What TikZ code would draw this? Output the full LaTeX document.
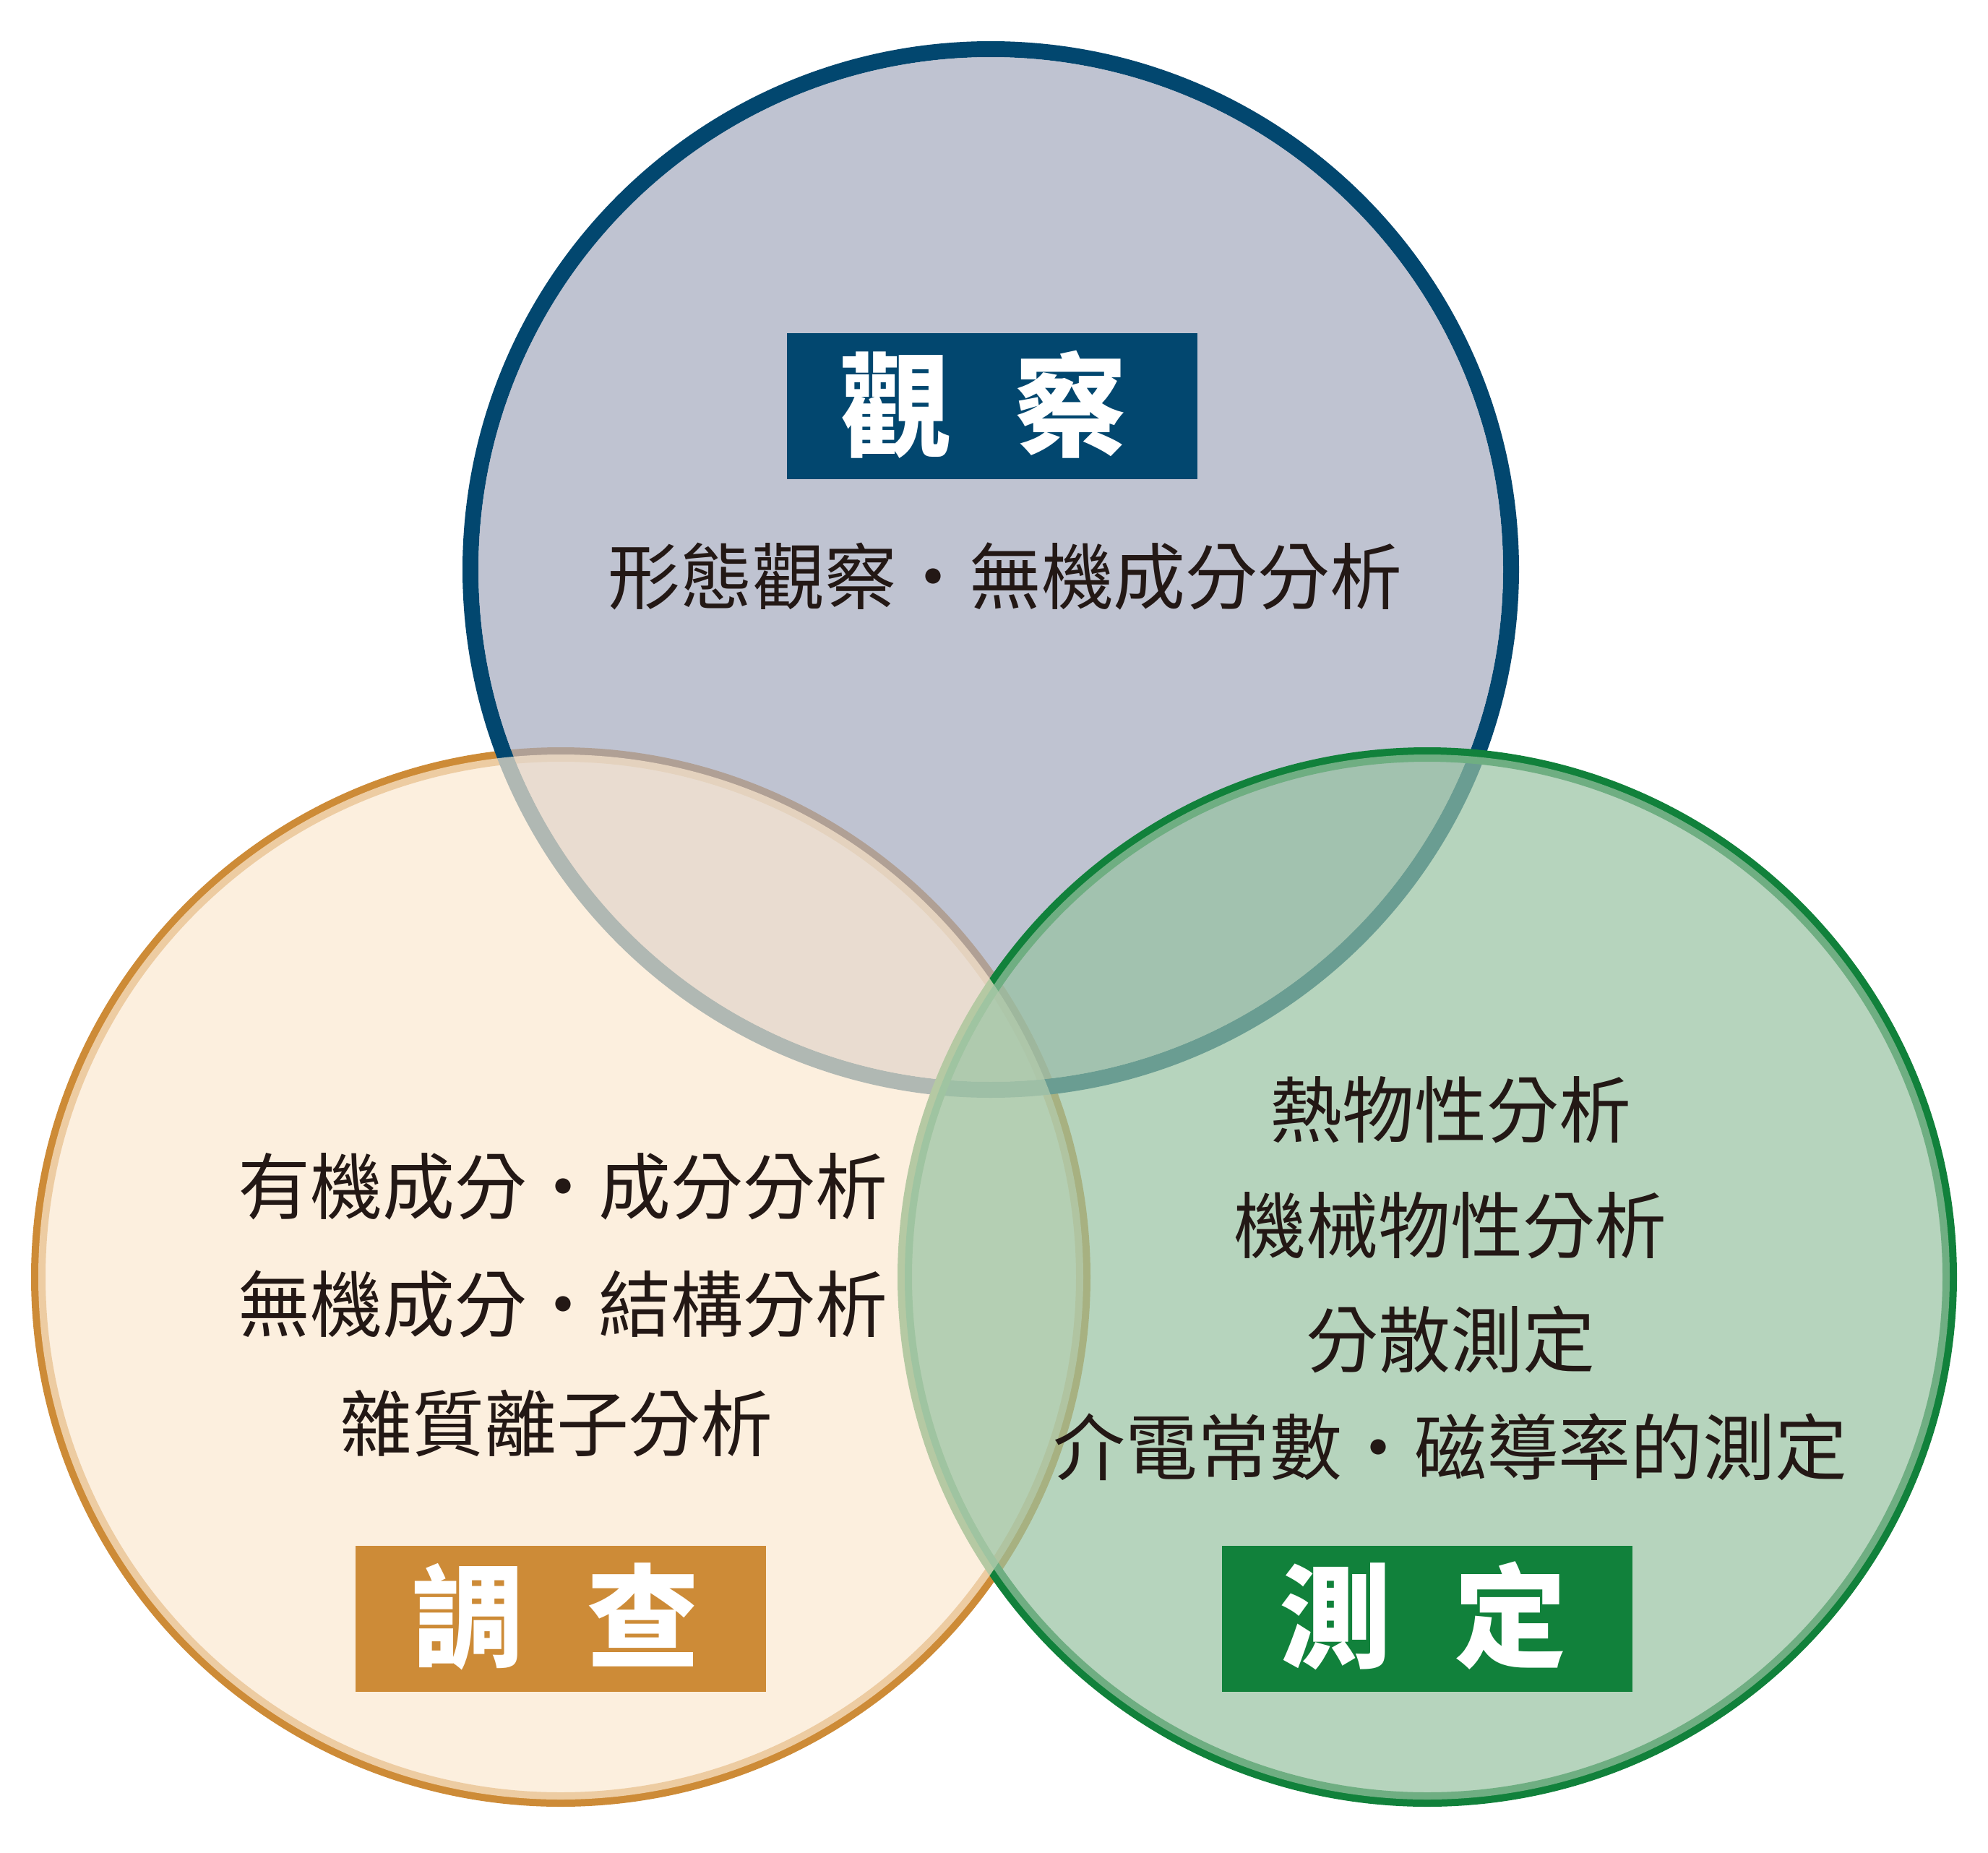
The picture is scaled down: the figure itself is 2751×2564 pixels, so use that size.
\documentclass[tikz,border=0pt]{standalone}
\usepackage{fontspec}
\newfontfamily\cjk{Noto Sans CJK TC}
\definecolor{topS}{RGB}{2,71,111}
\definecolor{leftS}{RGB}{205,139,55}
\definecolor{rightS}{RGB}{17,129,59}
\definecolor{topF}{RGB}{164,169,189}
\definecolor{leftF}{RGB}{251,232,208}
\definecolor{rightF}{RGB}{151,194,161}
\definecolor{txt}{RGB}{35,24,21}
\begin{document}
\begin{tikzpicture}[x=0.1mm,y=-0.1mm,
  body/.style={inner sep=0pt,anchor=base,text=txt,font=\cjk\fontsize{28.45pt}{34pt}\selectfont},
  titlebox/.style={inner sep=0pt,minimum width=56.8mm,minimum height=20.2mm},
  titletext/.style={inner sep=0pt,anchor=base,text=white,font=\cjk\bfseries\fontsize{44.2pt}{50pt}\selectfont},
  ring/.style={fill=none}]
\useasboundingbox (0,0) rectangle (2751,2564);
% centres
\coordinate (cT) at (1371,788);
\coordinate (cL) at (776,1767);
\coordinate (cR) at (1975,1767);
% strokes and fills in layered order
\draw[leftS,line width=2mm] (cL) circle[radius=72.3mm];
\draw[topS,line width=2.2mm] (cT) circle[radius=72.0mm];
\fill[topF,fill opacity=0.7] (cT) circle[radius=70.9mm];
\draw[rightS,line width=2mm] (cR) circle[radius=72.3mm];
\fill[leftF,fill opacity=0.7] (cL) circle[radius=72.3mm];
\fill[rightF,fill opacity=0.7] (cR) circle[radius=72.3mm];
% title boxes
\node[titlebox,fill=topS] (bT) at (1373,562) {};
\node[titlebox,fill=leftS] (bL) at (776,2240) {};
\node[titlebox,fill=rightS] (bR) at (1975,2240) {};
\node[titletext] (tT) at (1361,619) {觀\hspace{8.7mm}察};
\node[titletext] (tL) at (769,2295) {調\hspace{8.7mm}查};
\node[titletext] (tR) at (1969,2295) {測\hspace{8.7mm}定};
% body text
\node[body] (a1) at (1391,835) {形態觀察・無機成分分析};
\node[body] (l1) at (779,1679) {有機成分・成分分析};
\node[body] (l2) at (779,1842) {無機成分・結構分析};
\node[body] (l3) at (770,2007) {雜質離子分析};
\node[body] (r1) at (2007,1573) {熱物性分析};
\node[body] (r2) at (2007,1733) {機械物性分析};
\node[body] (r3) at (2007,1891) {分散測定};
\node[body] (r4) at (2007,2040) {介電常數・磁導率的測定};
\end{tikzpicture}
\end{document}
